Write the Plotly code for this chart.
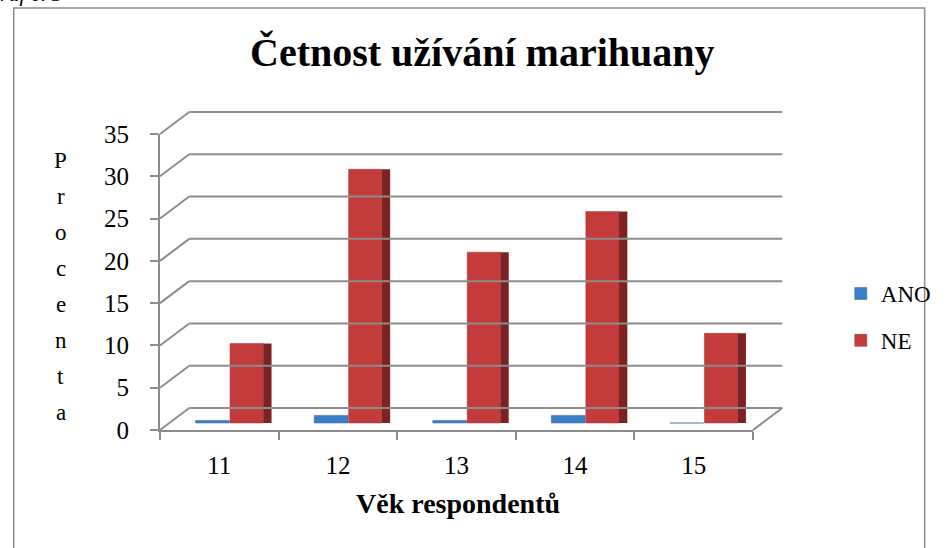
import plotly.graph_objects as go

# ---- data ----
categories = ["11", "12", "13", "14", "15"]
ano_values = [0.3, 0.9, 0.3, 0.9, 0.0]
ne_values = [9.4, 30.0, 20.2, 25.0, 10.6]
y_ticks = [0, 5, 10, 15, 20, 25, 30, 35]
series_names = ["ANO", "NE"]
title_text = "Četnost užívání marihuany"
x_title = "Věk respondentů"
y_title = "Procenta"
caption = "Graf č. 3"

# ---- geometry (pixels of the 948x548 page) ----
W, H = 948, 548
L, R, T, B = 160, 768, 134, 430   # plot area in page pixels
PW, PH = R - L, B - T
YMAX = 35
DX, DY = 30, 22          # depth offset of the back wall
FONT = "Liberation Serif"
GRID = "#8c8c8c"


def px_x(px):
    return (px - L) / PW


def px_y(py):
    return (B - py) / PH


def val_py(v):
    return B - v / YMAX * PH


shapes = []
# back wall grid lines + depth connectors
for v in y_ticks:
    yf = val_py(v)
    shapes.append(dict(type="line", xref="paper", yref="paper",
                       x0=px_x(L), y0=px_y(yf), x1=px_x(L + DX), y1=px_y(yf - DY),
                       line=dict(color=GRID, width=2)))
    shapes.append(dict(type="line", xref="paper", yref="paper",
                       x0=px_x(L + DX), y0=px_y(yf - DY), x1=px_x(R + DX), y1=px_y(yf - DY),
                       line=dict(color=GRID, width=2)))
# floor right edge
shapes.append(dict(type="line", xref="paper", yref="paper",
                   x0=px_x(R), y0=px_y(B), x1=px_x(R + DX), y1=px_y(B - DY),
                   line=dict(color=GRID, width=2)))
# chart frame
shapes.append(dict(type="rect", xref="paper", yref="paper",
                   x0=px_x(10), y0=px_y(8), x1=px_x(944), y1=px_y(570),
                   line=dict(color="#8c8c8c", width=1.5), layer="below"))

annotations = [
    dict(text="<b>" + title_text + "</b>", x=px_x(491), y=px_y(52), xref="paper", yref="paper",
         xanchor="center", yanchor="middle", showarrow=False,
         font=dict(family=FONT, size=40, color="black")),
    dict(text="<b>" + x_title + "</b>", x=px_x(466), y=px_y(503), xref="paper", yref="paper",
         xanchor="center", yanchor="middle", showarrow=False,
         font=dict(family=FONT, size=28, color="black")),
    dict(text="<i>" + caption + "</i>", x=px_x(-22), y=px_y(-6), xref="paper", yref="paper",
         xanchor="left", yanchor="middle", showarrow=False,
         font=dict(family=FONT, size=22, color="black")),
]
for i, ch in enumerate(y_title):
    annotations.append(dict(text=ch, x=px_x(58), y=px_y(160 + 36 * i), xref="paper", yref="paper",
                            xanchor="center", yanchor="middle", showarrow=False,
                            font=dict(family=FONT, size=23, color="black")))

# bars sit in the middle of the depth: shifted right / up a bit
shift_x = 11 / (PW / len(categories))
shift_y = (B - 423) / (PH / YMAX)

fig = go.Figure()
# invisible trace that anchors the front (labelled) axes
fig.add_trace(go.Scatter(x=categories, y=[None] * len(categories), mode="markers",
                         showlegend=False, hoverinfo="skip", xaxis="x", yaxis="y"))
fig.add_trace(go.Bar(x=categories, y=ano_values, name=series_names[0],
                     xaxis="x2", yaxis="y2", offset=-0.29, width=0.285,
                     marker=dict(color="#3C7DC8", line=dict(color="#2A5C9E", width=0.5)),
                     legendgroup="a"))
fig.add_trace(go.Bar(x=categories, y=ne_values, name=series_names[1],
                     xaxis="x2", yaxis="y2", offset=0.0, width=0.28,
                     marker=dict(color="#C43B3B", line=dict(color="#A52E2E", width=0.5)),
                     legendgroup="b"))
fig.add_trace(go.Bar(x=categories, y=ne_values, name=series_names[1] + " side",
                     xaxis="x2", yaxis="y2", offset=0.28, width=0.07,
                     marker=dict(color="#7C2222", line=dict(width=0)),
                     showlegend=False, hoverinfo="skip"))

fig.update_layout(
    width=W, height=H,
    margin=dict(l=L, r=W - R, t=T, b=H - B, pad=0),
    paper_bgcolor="white", plot_bgcolor="rgba(0,0,0,0)",
    barmode="overlay",
    font=dict(family=FONT, color="black"),
    shapes=shapes,
    annotations=annotations,
    showlegend=True,
    legend=dict(x=px_x(858), y=px_y(272), xanchor="left", yanchor="top",
                font=dict(family=FONT, size=23, color="black"),
                traceorder="grouped", tracegroupgap=14,
                bgcolor="rgba(0,0,0,0)"),
    xaxis=dict(type="category", categoryorder="array", categoryarray=categories,
               range=[-0.5, len(categories) - 0.5], tickson="boundaries",
               ticks="outside", ticklen=8, tickcolor=GRID, tickwidth=2,
               showline=True, linecolor=GRID, linewidth=2, showgrid=False,
               tickfont=dict(family=FONT, size=25, color="black"), ticklabelstandoff=12),
    yaxis=dict(range=[0, YMAX], tickvals=y_ticks, ticks="outside", ticklen=8,
               tickcolor=GRID, tickwidth=2, showline=True, linecolor=GRID, linewidth=2,
               showgrid=False, zeroline=False, ticklabelstandoff=16,
               tickfont=dict(family=FONT, size=25, color="black")),
    xaxis2=dict(type="category", categoryorder="array", categoryarray=categories,
                overlaying="x", range=[-0.5 - shift_x, len(categories) - 0.5 - shift_x],
                visible=False),
    yaxis2=dict(overlaying="y", range=[-shift_y, YMAX - shift_y], visible=False),
)

# remove the default 8px body margin so the figure fills the 948x548 window
fig.write_html("out.html", config={"displayModeBar": False},
               post_script="document.body.style.margin='0px';")
